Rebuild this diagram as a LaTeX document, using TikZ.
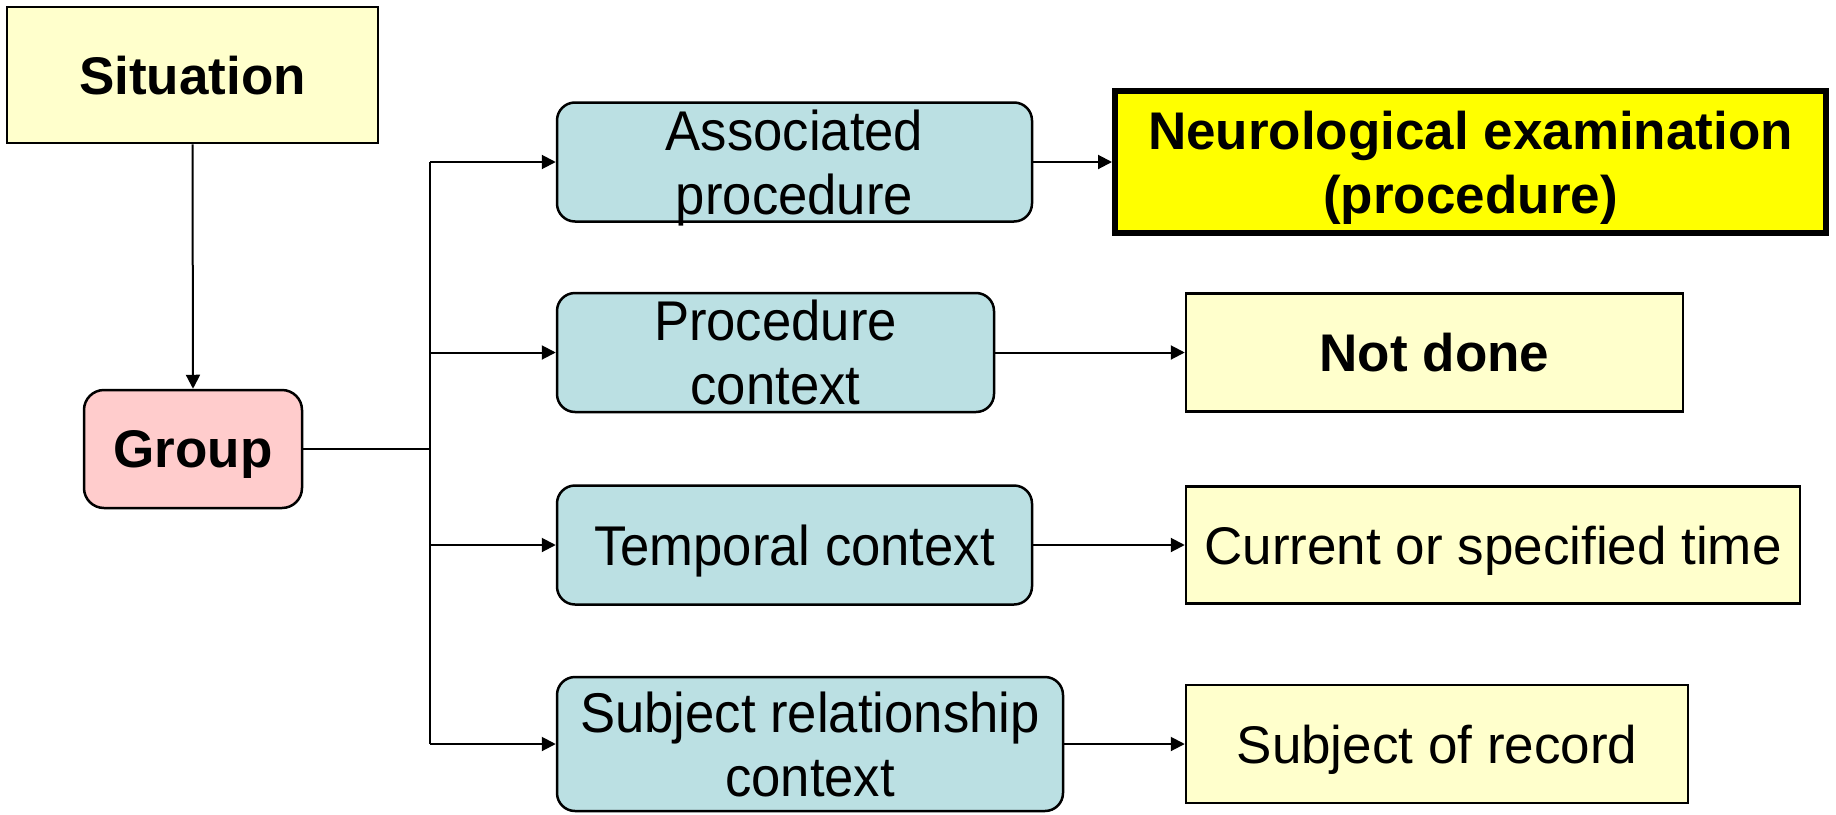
\documentclass[tikz,border=0pt]{standalone}
\usepackage{fontspec}
\setmainfont{Liberation Sans}
\newfontfamily\narrowfont[FakeStretch=0.94]{Liberation Sans}
\usetikzlibrary{arrows.meta}
\definecolor{paleyel}{HTML}{FFFFCC}
\definecolor{brightyel}{HTML}{FFFF00}
\definecolor{paleblue}{HTML}{BBE0E3}
\definecolor{palepink}{HTML}{FFCCCC}
\begin{document}
\begin{tikzpicture}[x=1pt,y=-1pt,
  boxbase/.style={draw=black, line width=2.5pt, align=center, inner sep=0pt, text depth=0pt},
  yelbox/.style={boxbase, fill=paleyel, font=\fontsize{53}{64}\selectfont},
  hibox/.style={boxbase, fill=brightyel, line width=6pt, font=\fontsize{53}{64}\selectfont\bfseries},
  bluebox/.style={boxbase, fill=paleblue, rounded corners=18pt, font=\narrowfont\fontsize{56}{64}\selectfont},
  pinkbox/.style={boxbase, fill=palepink, rounded corners=20pt, font=\fontsize{53}{64}\selectfont\bfseries},
  conn/.style={draw=black, line width=2pt},
  arr/.style={conn, -{Triangle[length=14pt,width=14pt]}}
]
\useasboundingbox (0,0) rectangle (1836,814);

\node[yelbox, font=\fontsize{53}{64}\selectfont\bfseries, minimum width=371pt, minimum height=136pt] (sit) at (192.5,75) {Situation};
\node[pinkbox, minimum width=218pt, minimum height=118pt] (grp) at (193,449) {Group};

\node[bluebox, minimum width=475pt, minimum height=119pt] (assoc) at (794.5,162) {Associated\\procedure};
\node[bluebox, minimum width=437pt, minimum height=119pt] (proc) at (775.5,352.5) {Procedure\\context};
\node[bluebox, minimum width=475pt, minimum height=119pt] (temp) at (794.5,545) {Temporal context};
\node[bluebox, minimum width=506pt, minimum height=134pt] (subj) at (810,744) {Subject relationship\\context};

\node[hibox, minimum width=711pt, minimum height=142pt] (neuro) at (1470.5,162) {Neurological examination\\(procedure)};
\node[yelbox, font=\fontsize{53}{64}\selectfont\bfseries, minimum width=497pt, minimum height=118pt] (notdone) at (1434.5,352.5) {Not done};
\node[yelbox, minimum width=614pt, minimum height=117pt] (curr) at (1493,545) {Current or specified time};
\node[yelbox, minimum width=502pt, minimum height=118pt] (rec) at (1437,744) {Subject of record};

\coordinate (ttop) at (430,162);
\coordinate (tbot) at (430,744);

\draw[arr] (sit.south) -- (grp.north);
\draw[conn] (grp.east) -- (grp.east -| ttop);
\draw[conn] (ttop) -- (tbot);
\draw[arr] (assoc.west -| ttop) -- (assoc.west);
\draw[arr] (proc.west -| ttop) -- (proc.west);
\draw[arr] (temp.west -| ttop) -- (temp.west);
\draw[arr] (subj.west -| ttop) -- (subj.west);

\draw[arr] (assoc.east) -- (neuro.west);
\draw[arr] (proc.east) -- (notdone.west);
\draw[arr] (temp.east) -- (curr.west);
\draw[arr] (subj.east) -- (rec.west);
\end{tikzpicture}
\end{document}
